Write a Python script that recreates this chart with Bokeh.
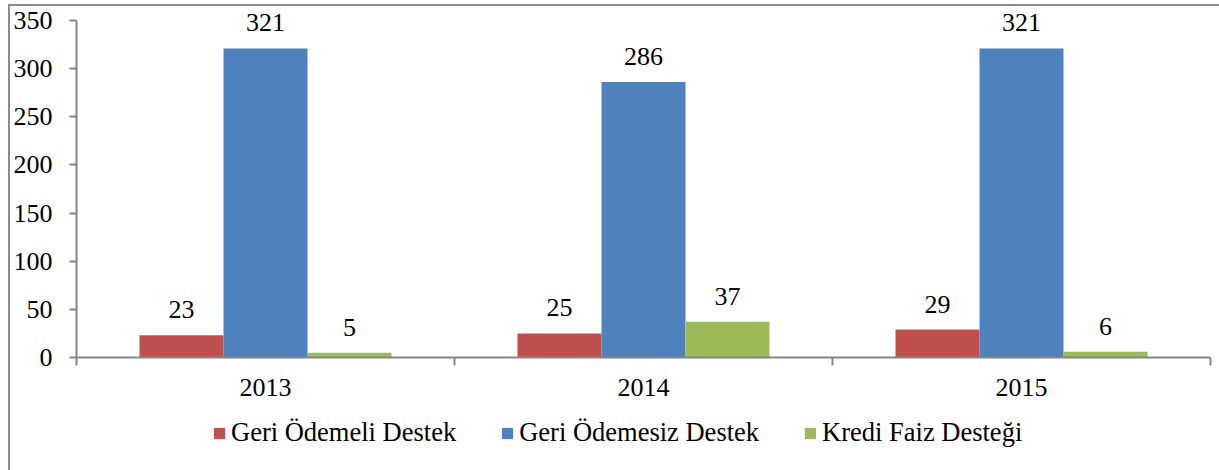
from bokeh.plotting import figure
from bokeh.models import (Range1d, LinearAxis, FixedTicker, LabelSet, ColumnDataSource,
                          Legend, LegendItem)
from bokeh.layouts import column
from bokeh.embed import file_html
from bokeh.resources import INLINE

years = ["2013", "2014", "2015"]
series = ["Geri Ödemeli Destek", "Geri Ödemesiz Destek", "Kredi Faiz Desteği"]
geri_odemeli = [23, 25, 29]
geri_odemesiz = [321, 286, 321]
kredi_faiz = [5, 37, 6]
y_ticks = [0, 50, 100, 150, 200, 250, 300, 350]

colors = ["#C0504D", "#4F81BD", "#9BBB59"]
FONT = "Liberation Serif"
FS = "26px"
AXIS = "#868686"

# frame spans page y 0..357; value 350 sits at y=20
p = figure(width=1219, height=412, output_backend="svg", toolbar_location=None,
           x_range=Range1d(0, 3), y_range=Range1d(0, 350 * 357.0 / 337.0),
           x_axis_type=None, y_axis_type=None,
           min_border_left=76, min_border_right=9, min_border_top=0, min_border_bottom=55)
p.outline_line_color = None
p.background_fill_color = None
p.border_fill_color = None

bar_w = 2.0 / 9.0
offsets = [-bar_w, 0.0, bar_w]
all_vals = [geri_odemeli, geri_odemesiz, kredi_faiz]
sources = []
for i, (name, vals) in enumerate(zip(series, all_vals)):
    xs = [j + 0.5 + offsets[i] for j in range(len(years))]
    src = ColumnDataSource(dict(x=xs, top=vals, lab=[str(v) for v in vals]))
    sources.append(src)
    p.vbar(x="x", top="top", bottom=0, width=bar_w, source=src,
           fill_color=colors[i], line_color=None)
    p.add_layout(LabelSet(x="x", y="top", text="lab", source=src, y_offset=17,
                          text_align="center", text_baseline="alphabetic",
                          text_font=FONT, text_font_size=FS, text_color="black"))

yaxis = LinearAxis(ticker=FixedTicker(ticks=y_ticks, minor_ticks=[]), bounds=(0, 350))
yaxis.axis_line_color = AXIS
yaxis.axis_line_width = 2
yaxis.major_tick_line_color = AXIS
yaxis.major_tick_line_width = 2
yaxis.major_tick_in = 0
yaxis.major_tick_out = 7
yaxis.minor_tick_line_color = None
yaxis.major_label_standoff = 17
yaxis.major_label_text_font = FONT
yaxis.major_label_text_font_size = FS
yaxis.major_label_text_color = "black"
p.add_layout(yaxis, "left")

xaxis = LinearAxis(ticker=FixedTicker(ticks=[0.5, 1.5, 2.5], minor_ticks=[0, 1, 2, 3]),
                   major_label_overrides={0.5: years[0], 1.5: years[1], 2.5: years[2]})
xaxis.axis_line_color = AXIS
xaxis.axis_line_width = 2
xaxis.major_tick_line_color = None
xaxis.major_tick_in = 0
xaxis.major_tick_out = 0
xaxis.minor_tick_line_color = AXIS
xaxis.minor_tick_line_width = 2
xaxis.minor_tick_in = 0
xaxis.minor_tick_out = 8
xaxis.major_label_standoff = 13
xaxis.major_label_text_font = FONT
xaxis.major_label_text_font_size = FS
xaxis.major_label_text_color = "black"
p.add_layout(xaxis, "below")

# legend strip below the chart (its proxy bars lie outside its visible range)
p2 = figure(width=1219, height=58, output_backend="svg", toolbar_location=None,
            x_range=Range1d(100, 101), y_range=Range1d(1000, 1001),
            x_axis_type=None, y_axis_type=None,
            min_border_left=0, min_border_right=0, min_border_top=0, min_border_bottom=0)
p2.outline_line_color = None
p2.background_fill_color = None
p2.border_fill_color = None
p2.xgrid.visible = False
p2.ygrid.visible = False
items = []
for i, name in enumerate(series):
    r = p2.vbar(x="x", top="top", bottom=0, width=bar_w, source=sources[i],
                fill_color=colors[i], line_color=None)
    items.append(LegendItem(label=name, renderers=[r]))
legend = Legend(items=items, orientation="horizontal", location=(136, 22),
                label_text_font=FONT, label_text_font_size="26.5px", label_text_color="black",
                glyph_width=14, glyph_height=14, label_standoff=5, spacing=44,
                padding=0, margin=0, border_line_color=None, background_fill_alpha=0)
p2.add_layout(legend, "center")

layout = column(p, p2, spacing=0)
layout.styles = {
    "background": ("linear-gradient(#8c8c8c,#8c8c8c) 8px 4px / 2px 100% no-repeat, "
                   "linear-gradient(#8c8c8c,#8c8c8c) 8px 4px / 100% 2px no-repeat"),
}

open("out.html", "w").write(file_html(layout, INLINE))
